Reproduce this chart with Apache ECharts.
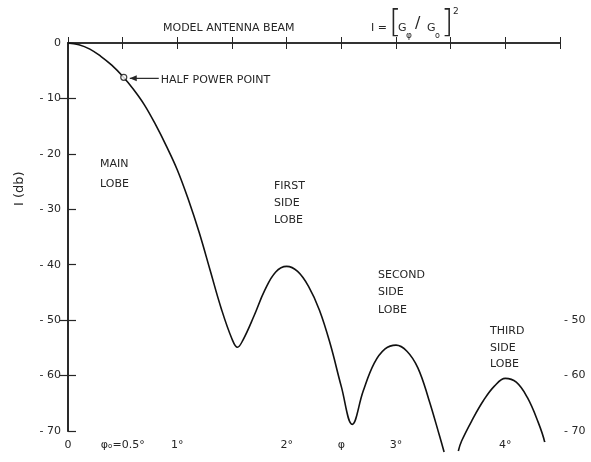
<!DOCTYPE html>
<html>
<head>
<meta charset="utf-8">
<script src="https://cdn.jsdelivr.net/npm/echarts@6/dist/echarts.min.js"></script>
<style>
  html, body { margin: 0; padding: 0; background: #fff; }
  #chart { width: 591px; height: 462px; }
</style>
</head>
<body>
<div id="chart"></div>
<script>
// Antenna beam pattern I(φ) in dB: main lobe, first and second side lobes
const mainPhi = [0, 0.1, 0.2, 0.3, 0.4, 0.5, 0.6, 0.7, 0.8, 0.9, 1.0, 1.1, 1.2, 1.3, 1.4, 1.5, 1.55, 1.6, 1.7, 1.8, 1.9, 2.0, 2.1, 2.2, 2.3, 2.4, 2.5, 2.6, 2.7, 2.8, 2.9, 3.0, 3.1, 3.2, 3.3, 3.4, 3.44];
const mainDb  = [0, -0.3, -1.1, -2.4, -4.0, -6.0, -8.4, -11.2, -14.7, -18.6, -22.9, -28.2, -34.2, -41.0, -47.8, -53.4, -54.9, -53.6, -49.3, -44.6, -41.3, -40.3, -41.2, -43.9, -48.2, -54.4, -62.0, -68.8, -62.8, -57.8, -55.2, -54.5, -55.6, -58.6, -64.3, -71.0, -73.8];
// Third side lobe
const thirdPhi = [3.57, 3.6, 3.7, 3.8, 3.9, 4.0, 4.1, 4.2, 4.3, 4.36];
const thirdDb  = [-73.6, -71.8, -67.9, -64.5, -61.9, -60.5, -61.2, -63.9, -68.4, -72.0];
// Half power point marker
const halfPower = [0.51, -6.2];

// Axis ticks and labels
const xTicks = [0, 0.5, 1, 1.5, 2, 2.5, 3, 3.5, 4, 4.5];
const xTickLabels = ['0', 'φₒ=0.5°', '1°', '', '2°', 'φ', '3°', '', '4°', ''];
const leftTicks = [0, -10, -20, -30, -40, -50, -60, -70];
const rightTickMarks = [-10, -50, -60];
const rightTickLabels = [-50, -60, -70];

const ink = '#262626';
const FONT = 'DejaVu Sans';
const pairs = (xs, ys) => xs.map((x, i) => [x, ys[i]]);
const dbLabel = v => (v === 0 ? '0' : '- ' + Math.abs(v));

const chart = echarts.init(document.getElementById('chart'), null, { renderer: 'canvas' });

const axisLine = { show: true, lineStyle: { color: ink, width: 1.5 } };
const labelStyle = { color: ink, fontFamily: FONT, fontSize: 11 };

const textEl = (left, top, text, size, extra) => ({
  type: 'text', left, top,
  style: Object.assign({ text, fill: ink, font: size + 'px "' + FONT + '"', lineHeight: 18 }, extra || {})
});

const option = {
  animation: false,
  backgroundColor: '#ffffff',
  grid: { left: 68, right: 31, top: 43, bottom: 31 },
  xAxis: [
    {
      type: 'value', position: 'bottom', min: xTicks[0], max: xTicks[xTicks.length - 1], interval: 0.5,
      axisLine,
      axisTick: { show: true, inside: true, length: 6, lineStyle: { color: ink, width: 1 } },
      axisLabel: Object.assign({
        margin: 9, showMinLabel: true, showMaxLabel: true,
        formatter: v => { const i = xTicks.findIndex(t => Math.abs(t - v) < 1e-6); return i >= 0 ? xTickLabels[i] : ''; }
      }, labelStyle),
      splitLine: { show: false }
    },
    {
      type: 'value', position: 'top', min: xTicks[0], max: xTicks[xTicks.length - 1], interval: 0.5,
      axisLine,
      axisTick: { show: true, inside: true, length: 6, lineStyle: { color: ink, width: 1 } },
      axisLabel: { show: false },
      splitLine: { show: false }
    }
  ],
  yAxis: [
    {
      type: 'value', position: 'left', min: leftTicks[leftTicks.length - 1], max: leftTicks[0], interval: 10,
      axisLine: { show: true, lineStyle: { color: '#3a3a3a', width: 2 } },
      axisTick: { show: true, inside: true, length: 8, lineStyle: { color: ink, width: 1.2 } },
      axisLabel: Object.assign({ margin: 7, formatter: dbLabel }, labelStyle),
      splitLine: { show: false }
    },
    {
      type: 'value', position: 'right', min: -70, max: 0, interval: 10,
      axisLine,
      axisTick: { show: true, inside: true, length: 8, customValues: rightTickMarks, lineStyle: { color: ink, width: 1.2 } },
      axisLabel: Object.assign({ margin: 4, customValues: rightTickLabels, formatter: dbLabel }, labelStyle),
      splitLine: { show: false }
    }
  ],
  series: [
    {
      type: 'line', data: pairs(mainPhi, mainDb), smooth: 0.4, symbol: 'none', clip: false,
      lineStyle: { color: '#111', width: 1.6 }
    },
    {
      type: 'line', data: pairs(thirdPhi, thirdDb), smooth: 0.4, symbol: 'none', clip: false,
      lineStyle: { color: '#111', width: 1.6 }
    },
    {
      type: 'scatter', data: [halfPower], symbol: 'circle', symbolSize: 6, z: 5,
      itemStyle: { color: '#fff', borderColor: '#111', borderWidth: 1.2 }
    }
  ]
};
chart.setOption(option);

// Arrow from the annotation text to the half power marker
const hp = chart.convertToPixel({ gridIndex: 0 }, halfPower);
const ax0 = hp[0] + 6, ay = hp[1] + 1, ax1 = hp[0] + 35;
const bracketFont = '200 32px "' + FONT + '"';

chart.setOption({
  graphic: [
    // Title and formula
    textEl(163, 19, 'MODEL ANTENNA BEAM', 11),
    textEl(371, 19, 'I =', 11),
    textEl(389, 8, '[', 32, { font: bracketFont }),
    textEl(398, 19, 'G', 11),
    textEl(406, 27, 'φ', 9),
    textEl(415, 15, '/', 16),
    textEl(427, 19, 'G', 11),
    textEl(435, 27, 'o', 8),
    textEl(441, 8, ']', 32, { font: bracketFont }),
    textEl(453, 3, '2', 9),
    // Y axis title
    {
      type: 'text', x: 13, y: 206, rotation: Math.PI / 2,
      style: { text: 'I (db)', fill: ink, font: '13px "' + FONT + '"' }
    },
    // Half power point annotation
    {
      type: 'line', shape: { x1: ax1, y1: ay, x2: ax0, y2: ay },
      style: { stroke: ink, lineWidth: 1.2 }
    },
    {
      type: 'polygon', shape: { points: [[ax0, ay], [ax0 + 7, ay - 3], [ax0 + 7, ay + 3]] },
      style: { fill: ink }
    },
    textEl(ax1 + 2, ay - 7, 'HALF POWER POINT', 11),
    // Lobe labels
    textEl(100, 154, 'MAIN\nLOBE', 11, { lineHeight: 20 }),
    textEl(274, 178, 'FIRST\nSIDE\nLOBE', 11, { lineHeight: 17 }),
    textEl(378, 266, 'SECOND\nSIDE\nLOBE', 11, { lineHeight: 17.5 }),
    textEl(490, 323, 'THIRD\nSIDE\nLOBE', 11, { lineHeight: 16.5 })
  ]
});
</script>
</body>
</html>
